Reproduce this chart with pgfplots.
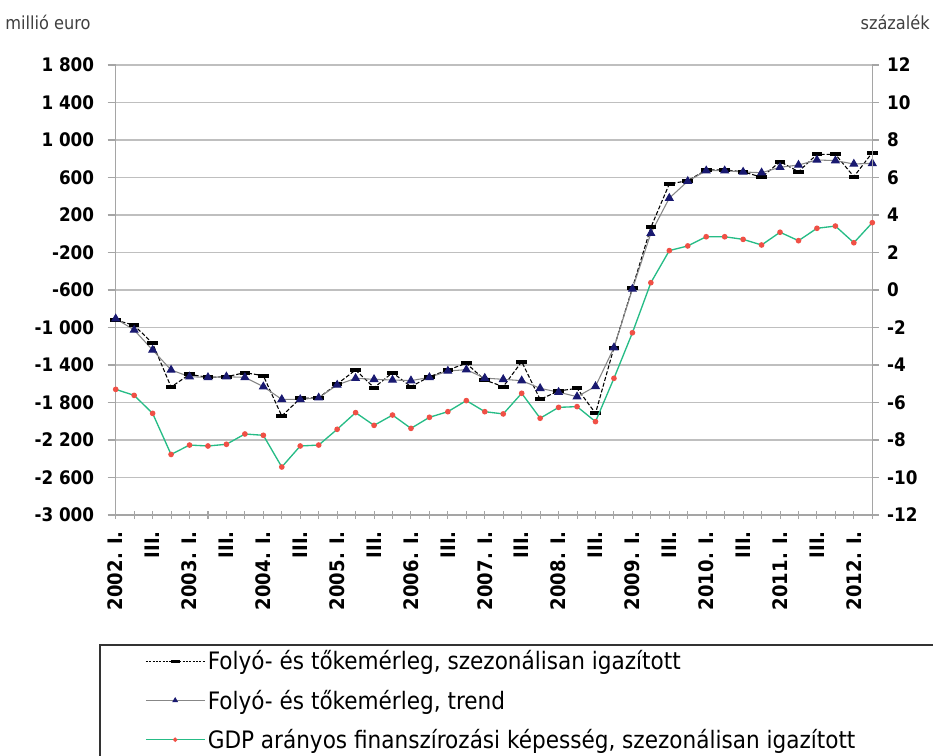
\documentclass[border=0pt]{standalone}
\usepackage{pgfplots}
\pgfplotsset{compat=1.18}
\usepackage{pgfplotstable}
\usepackage{fontspec}
\setmainfont{DejaVu Sans Condensed}

\definecolor{gridgray}{RGB}{191,191,191}
\definecolor{axgray}{RGB}{165,165,165}
\definecolor{trendgray}{RGB}{135,135,135}
\definecolor{navy}{RGB}{25,25,112}
\definecolor{gdpgreen}{RGB}{38,188,134}
\definecolor{dotred}{RGB}{240,80,70}

% i: negyedev 2002.I = 0 ... 2012.II = 41
% sa, trend: millio euro (bal tengely), gdp: szazalek (jobb tengely)
\pgfplotstableread{
i  sa     trend  gdp
0  -920   -906   -5.30
1  -977   -1027  -5.62
2  -1169  -1240  -6.58
3  -1635  -1453  -8.77
4  -1500  -1525  -8.27
5  -1532  -1532  -8.32
6  -1525  -1525  -8.23
7  -1482  -1532  -7.68
8  -1514  -1631  -7.75
9  -1944  -1767  -9.44
10 -1756  -1767  -8.32
11 -1749  -1750  -8.27
12 -1603  -1613  -7.43
13 -1453  -1542  -6.54
14 -1642  -1553  -7.22
15 -1482  -1560  -6.67
16 -1631  -1567  -7.38
17 -1525  -1532  -6.79
18 -1453  -1464  -6.49
19 -1382  -1450  -5.90
20 -1560  -1540  -6.49
21 -1631  -1553  -6.61
22 -1365  -1567  -5.51
23 -1767  -1649  -6.84
24 -1677  -1690  -6.26
25 -1649  -1738  -6.22
26 -1916  -1628  -7.02
27 -1215  -1215  -4.71
28 -579   -590   -2.28
29 68     5      0.39
30 531    380    2.10
31 566    560    2.35
32 680    673    2.84
33 680    673    2.84
34 662    659    2.70
35 602    651    2.40
36 769    709    3.08
37 662    733    2.63
38 847    787    3.29
39 847    780    3.41
40 609    744    2.52
41 865    751    3.59
}\datatable

\begin{document}
\begin{tikzpicture}
\path[use as bounding box] (0,0) rectangle (699.75pt,567pt);

\node[anchor=west, inner sep=0pt, text=black!75, font=\fontsize{13.5}{15}\selectfont] at (3.75pt,550.5pt) {millió euro};
\node[anchor=east, inner sep=0pt, text=black!75, font=\fontsize{13.5}{15}\selectfont] at (697.5pt,550.5pt) {százalék};

\begin{axis}[
  at={(86.78pt,180.75pt)}, anchor=south west,
  scale only axis, width=567.45pt, height=337.5pt,
  xmin=0, xmax=41, ymin=-3000, ymax=1800,
  axis x line*=bottom, axis y line*=left,
  axis line style={axgray, line width=0.9pt},
  xtick={0,2,...,40}, minor xtick={1,3,...,41},
  xticklabels={2002. I., III., 2003. I., III., 2004. I., III., 2005. I., III., 2006. I., III., 2007. I., III., 2008. I., III., 2009. I., III., 2010. I., III., 2011. I., III., 2012. I.},
  xticklabel style={rotate=90, anchor=east, inner sep=0pt, font=\fontsize{15}{17}\selectfont\bfseries},
  xticklabel shift=9pt,
  xtick align=center,
  ytick={-3000,-2600,...,1800},
  yticklabels={-3 000,-2 600,-2 200,-1 800,-1 400,-1 000,-600,-200,200,600,1 000,1 400,1 800},
  yticklabel style={inner sep=0pt, font=\fontsize{14}{16}\selectfont\bfseries},
  yticklabel shift=10pt,
  ytick align=outside,
  major tick length=6pt, minor tick length=6pt,
  tick style={axgray, line width=0.8pt},
  ymajorgrids, major grid style={gridgray, line width=0.9pt},
  legend style={at={(0.0387,-0.295)}, anchor=north west, draw=none, fill=none,
    font=\fontsize{18}{20}\selectfont, row sep=9.5pt, inner sep=0pt,
    nodes={inner sep=2pt}},
  legend cell align=left,
  legend image code/.code={\draw[mark repeat=2,mark phase=2,#1] plot coordinates {(0pt,0pt)(22pt,0pt)(44pt,0pt)};},
]
\addplot[black, line width=0.8pt, dash pattern=on 3pt off 1.5pt, mark=-,
  mark options={solid, line width=3pt, mark size=4pt}, forget plot]
  table[x=i, y=sa] {\datatable};
\addplot[trendgray, line width=0.8pt, mark=triangle*,
  mark options={solid, fill=navy, draw=navy, mark size=3.2pt}, forget plot]
  table[x=i, y=trend] {\datatable};

\addlegendimage{black, line width=0.6pt, dash pattern=on 1.5pt off 1pt, mark=-, mark options={solid, line width=2.5pt, mark size=3.5pt}}
\addlegendentry{Folyó- és tőkemérleg, szezonálisan igazított}
\addlegendimage{trendgray, line width=0.8pt, mark=triangle*, mark options={fill=navy, draw=navy, mark size=1.8pt}}
\addlegendentry{Folyó- és tőkemérleg, trend}
\addlegendimage{gdpgreen, line width=0.9pt, mark=*, mark options={fill=dotred, draw=dotred, mark size=1.2pt}}
\addlegendentry{GDP arányos finanszírozási képesség, szezonálisan igazított}
\end{axis}

\begin{axis}[
  at={(86.78pt,180.75pt)}, anchor=south west,
  scale only axis, width=567.45pt, height=337.5pt,
  xmin=0, xmax=41, ymin=-12, ymax=12,
  axis x line=none, axis y line*=right,
  axis line style={axgray, line width=0.9pt},
  ytick={-12,-10,...,12},
  yticklabels={-12,-10,-8,-6,-4,-2,0,2,4,6,8,10,12},
  yticklabel style={inner sep=0pt, font=\fontsize{14}{16}\selectfont\bfseries},
  yticklabel shift=6pt,
  ytick align=outside,
  major tick length=5pt,
  tick style={axgray, line width=0.8pt},
]
\addplot[gdpgreen, line width=1pt, mark=*,
  mark options={fill=dotred, draw=dotred, mark size=1.6pt}]
  table[x=i, y=gdp] {\datatable};
\end{axis}

\draw[black!80, line width=1.2pt] (75pt,-20pt) |- (720pt,83.25pt);
\end{tikzpicture}
\end{document}
